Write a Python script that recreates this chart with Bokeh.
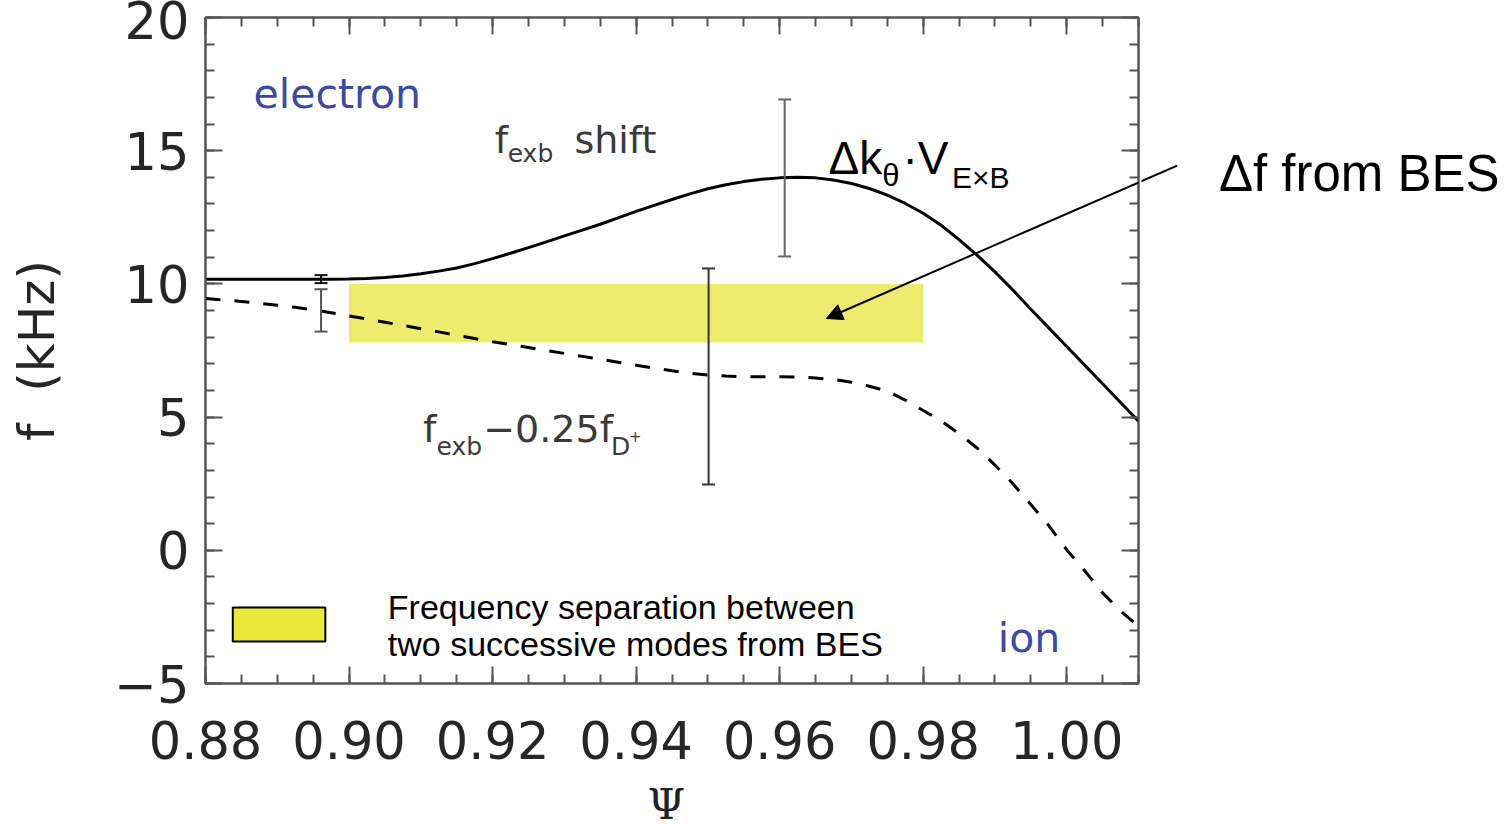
from bokeh.plotting import figure
from bokeh.layouts import row, column
from bokeh.models import (Label, Arrow, NormalHead, LinearAxis, FixedTicker,
                          Range1d, ColumnDataSource)
from bokeh.embed import file_html
from bokeh.resources import INLINE

# ---- data -------------------------------------------------------------
psi = [0.8800, 0.8825, 0.8850, 0.8875, 0.8900, 0.8925, 0.8950, 0.8975,
       0.9000, 0.9025, 0.9050, 0.9075, 0.9100, 0.9125, 0.9150, 0.9175,
       0.9200, 0.9225, 0.9250, 0.9275, 0.9300, 0.9325, 0.9350, 0.9375,
       0.9400, 0.9425, 0.9450, 0.9475, 0.9500, 0.9525, 0.9550, 0.9575,
       0.9600, 0.9625, 0.9650, 0.9675, 0.9700, 0.9725, 0.9750, 0.9775,
       0.9800, 0.9825, 0.9850, 0.9875, 0.9900, 0.9925, 0.9950, 0.9975,
       1.0000, 1.0025, 1.0050, 1.0075, 1.0100]

# Δkθ·V_ExB shift (kHz)
f_exb = [10.17, 10.17, 10.17, 10.17, 10.17, 10.17, 10.17, 10.17,
         10.18, 10.20, 10.24, 10.30, 10.38, 10.48, 10.60, 10.76,
         10.95, 11.15, 11.36, 11.58, 11.80, 12.02, 12.24, 12.48,
         12.72, 12.95, 13.17, 13.38, 13.57, 13.72, 13.84, 13.93,
         13.98, 14.00, 13.98, 13.90, 13.77, 13.58, 13.33, 13.02,
         12.65, 12.20, 11.66, 11.08, 10.45, 9.77, 9.05, 8.35,
         7.65, 6.95, 6.25, 5.55, 4.85]

# f_exb - 0.25 f_D+ (kHz)
f_dia = [9.45, 9.40, 9.34, 9.27, 9.20, 9.12, 9.03, 8.92,
         8.80, 8.68, 8.56, 8.44, 8.32, 8.20, 8.07, 7.95,
         7.83, 7.72, 7.61, 7.50, 7.39, 7.28, 7.17, 7.06,
         6.95, 6.84, 6.74, 6.65, 6.58, 6.54, 6.52, 6.51,
         6.51, 6.50, 6.47, 6.41, 6.31, 6.16, 5.97, 5.64,
         5.25, 4.86, 4.38, 3.84, 3.20, 2.50, 1.72, 0.93,
         0.02, -0.77, -1.60, -2.28, -2.85]

# error bars
err_x = [0.8961, 0.8961, 0.9501, 0.9607]
err_lo = [10.03, 8.21, 2.47, 11.03]
err_hi = [10.33, 9.80, 10.58, 16.92]
err_color = ["#111111", "#555555", "#333333", "#666666"]

# frequency separation between successive modes (BES)
band_psi = [0.90, 0.98]
band_f = [7.8, 10.0]

x_ticks = [0.88, 0.90, 0.92, 0.94, 0.96, 0.98, 1.00]
x_tick_labels = ["0.88", "0.90", "0.92", "0.94", "0.96", "0.98", "1.00"]
y_ticks = [-5, 0, 5, 10, 15, 20]
y_tick_labels = ["\u22125", "0", "5", "10", "15", "20"]

# ---- layout constants -------------------------------------------------
X0, X1 = 0.88, 1.01
FRAME_L, FRAME_W = 205, 933
FRAME_T, FRAME_H = 17, 666
GAP = 3
SIDE_W = 1507 - FRAME_L - FRAME_W - GAP
MAIN_H = 780
FOOT_H = 832 - MAIN_H
PX = FRAME_W / (X1 - X0)

# ---- main figure ------------------------------------------------------
p = figure(width=FRAME_L + FRAME_W + GAP, height=MAIN_H,
           x_range=Range1d(X0, X1), y_range=Range1d(-5, 20),
           output_backend="svg", toolbar_location=None,
           min_border_left=FRAME_L, min_border_right=GAP,
           min_border_top=FRAME_T,
           min_border_bottom=MAIN_H - FRAME_T - FRAME_H)
p.xgrid.visible = False
p.ygrid.visible = False
p.outline_line_color = "#555555"
p.outline_line_width = 2

x_minor = [round(0.88 + 0.005 * i, 3) for i in range(27)]
y_minor = list(range(-5, 21))

tick_font = "DejaVu Sans"


def style_axis(ax):
    ax.axis_line_color = "#555555"
    ax.axis_line_width = 2
    ax.major_tick_in = 17
    ax.major_tick_out = 0
    ax.minor_tick_in = 9
    ax.minor_tick_out = 0
    ax.major_tick_line_color = "#555555"
    ax.major_tick_line_width = 2
    ax.minor_tick_line_color = "#555555"
    ax.minor_tick_line_width = 2


xa = p.xaxis[0]
xa.ticker = FixedTicker(ticks=x_ticks, minor_ticks=x_minor)
xa.major_label_overrides = dict(zip(x_ticks, x_tick_labels))
xa.major_label_text_font = tick_font
xa.major_label_text_font_size = "51px"
xa.major_label_text_color = "#262626"
xa.major_label_standoff = 37
style_axis(xa)

ya = p.yaxis[0]
ya.ticker = FixedTicker(ticks=y_ticks, minor_ticks=y_minor)
ya.major_label_overrides = dict(zip(y_ticks, y_tick_labels))
ya.major_label_text_font = tick_font
ya.major_label_text_font_size = "51px"
ya.major_label_text_color = "#262626"
ya.major_label_standoff = 16
ya.axis_label = "f\u00a0\u00a0(kHz)"
ya.axis_label_text_font = tick_font
ya.axis_label_text_font_style = "normal"
ya.axis_label_text_font_size = "50px"
ya.axis_label_text_color = "#262626"
ya.axis_label_standoff = 45
style_axis(ya)

top = LinearAxis(ticker=FixedTicker(ticks=x_ticks, minor_ticks=x_minor),
                 major_label_overrides={t: "" for t in x_ticks},
                 major_label_text_font_size="1px", major_label_standoff=0)
right = LinearAxis(ticker=FixedTicker(ticks=y_ticks, minor_ticks=y_minor),
                   major_label_overrides={t: "" for t in y_ticks},
                   major_label_text_font_size="1px", major_label_standoff=0)
style_axis(top)
style_axis(right)
p.add_layout(top, "above")
p.add_layout(right, "right")

# ---- marks ------------------------------------------------------------
p.quad(left=band_psi[0], right=band_psi[1], bottom=band_f[0], top=band_f[1],
       fill_color="#EFEB6E", line_color=None)

p.line(psi, f_exb, line_color="black", line_width=3)
p.line(psi, f_dia, line_color="black", line_width=3, line_dash="15 14")

err = ColumnDataSource(dict(x=err_x, lo=err_lo, hi=err_hi, c=err_color))
p.segment(x0="x", y0="lo", x1="x", y1="hi", line_color="c", line_width=2,
          source=err)
p.scatter(x="x", y="lo", marker="dash", size=13, line_color="c",
          line_width=2, source=err)
p.scatter(x="x", y="hi", marker="dash", size=13, line_color="c",
          line_width=2, source=err)

# legend key for the band
p.quad(left=0.8838, right=0.8967, bottom=-3.42, top=-2.15,
       fill_color="#ECE83B", line_color="black", line_width=2)

# ---- text -------------------------------------------------------------


def add_label(fig, x, y, text, size, font="DejaVu Sans", color="#222222",
              align="left"):
    fig.add_layout(Label(x=x, y=y, text=text, text_font=font,
                         text_font_size=f"{size}px", text_color=color,
                         text_align=align, text_baseline="alphabetic",
                         y_offset=round(0.37 * size)))


blue = "#3D4AA0"
add_label(p, 0.8867, 16.58, "electron", 41, color=blue)
add_label(p, 0.9904, -3.84, "ion", 41, color=blue)

gray = "#3a3a3a"
add_label(p, 0.9203, 14.89, "f", 38, color=gray)
add_label(p, 0.9221, 14.56, "exb", 25, color=gray)
add_label(p, 0.9314, 14.89, "shift", 38, color=gray)

add_label(p, 0.9103, 4.01, "f", 38, color=gray)
add_label(p, 0.9122, 3.56, "exb", 25, color=gray)
add_label(p, 0.9187, 4.01, "\u22120.25f", 38, color=gray)
add_label(p, 0.9365, 3.56, "D", 25, color=gray)
add_label(p, 0.9390, 4.05, "+", 15, color=gray)

arial = "Liberation Sans"
add_label(p, 0.9668, 14.07, "\u0394k", 46, font=arial, color="black")
add_label(p, 0.9743, 13.66, "\u03b8", 31, font=arial, color="black")
add_label(p, 0.9771, 14.07, "\u00b7V", 46, font=arial, color="black")
add_label(p, 0.9840, 13.58, "E\u00d7B", 30, font=arial, color="black")

add_label(p, 0.9054, -2.60, "Frequency separation between", 34,
          font=arial, color="black")
add_label(p, 0.9054, -3.99, "two successive modes from BES", 34,
          font=arial, color="black")

arrow_kw = dict(x_start=1.0154, y_start=14.44, x_end=0.9665, y_end=8.70,
                line_color="black", line_width=2)
p.add_layout(Arrow(end=NormalHead(size=16, fill_color="black",
                                  line_color="black"), **arrow_kw))

# ---- side panel: callout outside the axes -------------------------------
side = figure(width=SIDE_W, height=MAIN_H,
              x_range=Range1d(X1 + GAP / PX, X1 + (GAP + SIDE_W) / PX),
              y_range=p.y_range, output_backend="svg", toolbar_location=None,
              min_border_left=0, min_border_right=0,
              min_border_top=FRAME_T,
              min_border_bottom=MAIN_H - FRAME_T - FRAME_H,
              x_axis_location=None, y_axis_location=None)
side.xgrid.visible = False
side.ygrid.visible = False
side.outline_line_color = None
side.add_layout(Arrow(end=None, **arrow_kw))
add_label(side, 1.0212, 13.43, "\u0394f from BES", 51, font=arial,
          color="black")

# ---- footer: x-axis title -------------------------------------------------
foot = figure(width=1507, height=FOOT_H, x_range=p.x_range,
              y_range=Range1d(0, 1), output_backend="svg",
              toolbar_location=None, min_border_left=FRAME_L,
              min_border_right=1507 - FRAME_L - FRAME_W,
              min_border_top=0, min_border_bottom=0,
              x_axis_location=None, y_axis_location=None)
foot.xgrid.visible = False
foot.ygrid.visible = False
foot.outline_line_color = None
add_label(foot, 0.9442, 0.25, "\u03a8", 43, font="DejaVu Serif",
          align="center")

layout = column(row(p, side, spacing=0), foot, spacing=0)
open("out.html", "w").write(file_html(layout, INLINE))
